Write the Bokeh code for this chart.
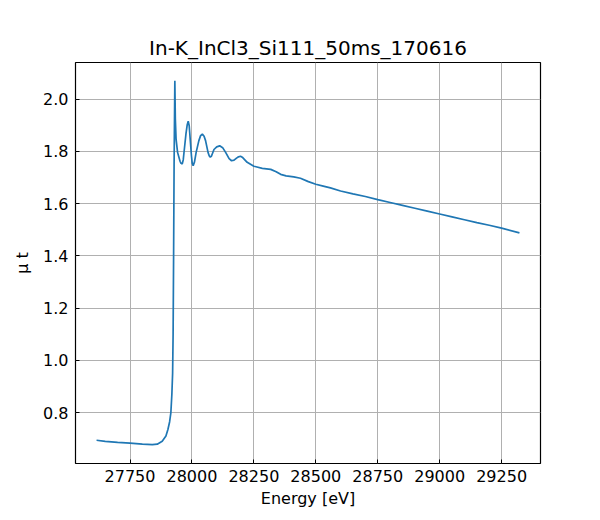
from bokeh.plotting import figure
from bokeh.models import FixedTicker, Range1d, NumeralTickFormatter
from bokeh.embed import file_html
from bokeh.resources import INLINE

energy = [27615, 27650, 27700, 27750, 27800, 27840, 27860, 27880, 27895, 27903,
          27910, 27915, 27919, 27922, 27924, 27926, 27928, 27931, 27933, 27936,
          27942, 27952, 27956, 27961, 27965, 27969, 27976, 27981, 27985, 27989,
          27991, 27998, 28001, 28005, 28010, 28017, 28028, 28035, 28042, 28049,
          28055, 28065, 28070, 28074, 28079, 28089, 28100, 28112, 28124, 28136,
          28150, 28160, 28170, 28180, 28188, 28196, 28205, 28223, 28250, 28284,
          28318, 28340, 28358, 28380, 28411, 28438, 28470, 28500, 28530, 28559,
          28600, 28650, 28700, 28750, 28800, 28850, 28900, 28950, 29000, 29050,
          29100, 29150, 29200, 29250, 29322]
mu_t = [0.694, 0.690, 0.686, 0.683, 0.679, 0.677, 0.679, 0.690, 0.710, 0.735,
        0.765, 0.800, 0.870, 0.950, 1.100, 1.400, 1.750, 2.070, 1.924, 1.847,
        1.796, 1.762, 1.754, 1.752, 1.768, 1.805, 1.868, 1.902, 1.915, 1.898,
        1.872, 1.783, 1.755, 1.745, 1.758, 1.796, 1.841, 1.860, 1.866, 1.858,
        1.841, 1.796, 1.782, 1.778, 1.782, 1.807, 1.817, 1.821, 1.814, 1.796,
        1.772, 1.764, 1.766, 1.774, 1.779, 1.781, 1.776, 1.758, 1.743, 1.735,
        1.731, 1.722, 1.712, 1.706, 1.702, 1.697, 1.684, 1.674, 1.667, 1.660,
        1.648, 1.637, 1.627, 1.615, 1.604, 1.593, 1.582, 1.571, 1.560, 1.549,
        1.538, 1.527, 1.517, 1.506, 1.488]

x_ticks = [27750, 28000, 28250, 28500, 28750, 29000, 29250]
y_ticks = [0.8, 1.0, 1.2, 1.4, 1.6, 1.8, 2.0]

FONT = "DejaVu Sans"

p = figure(frame_width=465, frame_height=401,
           min_border_left=75, min_border_right=52,
           min_border_top=62, min_border_bottom=49,
           output_backend="svg", toolbar_location=None,
           title="In-K_InCl3_Si111_50ms_170616",
           x_axis_label="Energy [eV]", y_axis_label="μ t")

p.x_range = Range1d(27530, 29407)
p.y_range = Range1d(0.605, 2.140)

p.line(energy, mu_t, line_color="#1f77b4", line_width=1.7)

p.title.align = "center"
p.title.text_font = FONT
p.title.text_font_size = "20px"
p.title.text_font_style = "normal"
p.title.text_color = "black"
p.title.offset = 0
p.title.standoff = 5

p.xaxis.ticker = FixedTicker(ticks=x_ticks)
p.yaxis.ticker = FixedTicker(ticks=y_ticks)
p.yaxis.formatter = NumeralTickFormatter(format="0.0")
p.xaxis.formatter = NumeralTickFormatter(format="0")

for ax in (p.xaxis, p.yaxis):
    ax.axis_line_color = None
    ax.major_tick_in = 4
    ax.major_tick_out = 0
    ax.major_tick_line_color = "black"
    ax.minor_tick_line_color = None
    ax.major_label_text_font = FONT
    ax.major_label_text_font_size = "16px"
    ax.major_label_text_color = "black"
    ax.axis_label_text_font = FONT
    ax.axis_label_text_font_size = "16px"
    ax.axis_label_text_font_style = "normal"
    ax.axis_label_text_color = "black"

p.xaxis.major_label_standoff = 6
p.yaxis.major_label_standoff = 7
p.xaxis.axis_label_standoff = 4
p.yaxis.axis_label_standoff = 8

p.grid.grid_line_color = "#b0b0b0"
p.grid.grid_line_width = 1
p.grid.grid_line_alpha = 1

p.outline_line_color = "black"
p.outline_line_width = 1.2
p.outline_line_alpha = 1
p.background_fill_color = "white"
p.border_fill_color = "white"

open("out.html", "w").write(file_html(p, INLINE))
